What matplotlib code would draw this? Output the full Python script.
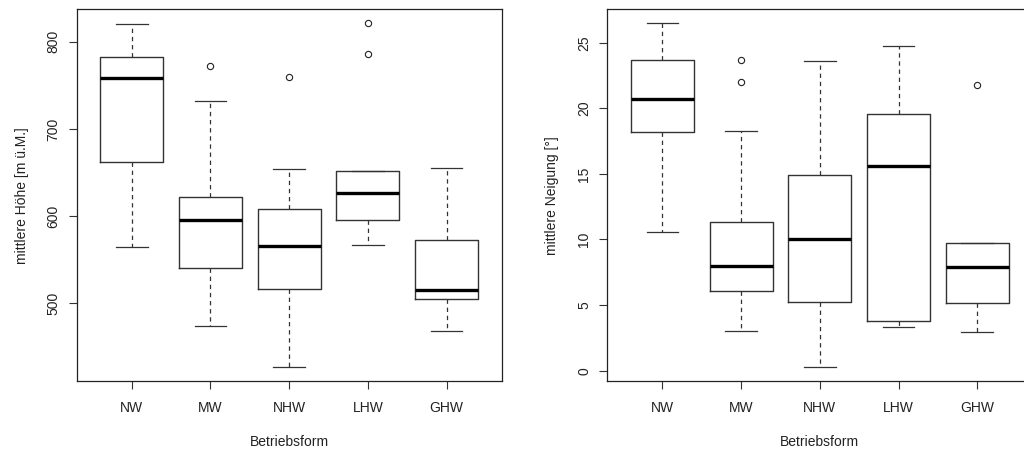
import matplotlib
matplotlib.use("Agg")
import matplotlib.pyplot as plt

plt.rcParams['font.family'] = ['Liberation Sans', 'DejaVu Sans']

kategorien = ['NW', 'MW', 'NHW', 'LHW', 'GHW']

# mittlere Hoehe [m u.M.]: whisker unten, Q1, Median, Q3, whisker oben
hoehe_unten = [564.9, 474.3, 426.8, 567.2, 468.0]
hoehe_q1 = [662.3, 540.7, 516.9, 595.2, 505.4]
hoehe_med = [758.2, 595.2, 566.0, 627.0, 515.8]
hoehe_q3 = [783.1, 621.6, 608.6, 651.9, 572.5]
hoehe_oben = [820.7, 731.7, 653.9, 651.9, 655.0]
hoehe_ausreisser = [[], [772.0], [759.3], [821.5, 786.2], []]

# mittlere Neigung [Grad]
neig_unten = [10.56, 3.06, 0.26, 3.34, 2.98]
neig_q1 = [18.19, 6.10, 5.26, 3.75, 5.18]
neig_med = [20.74, 7.96, 10.0, 15.64, 7.88]
neig_q3 = [23.67, 11.30, 14.9, 19.57, 9.72]
neig_oben = [26.5, 18.24, 23.6, 24.77, 9.72]
neig_ausreisser = [[], [23.67, 22.0], [], [], [21.76]]


def stats(unten, q1, med, q3, oben, ausr):
    out = []
    for i in range(len(kategorien)):
        out.append(dict(whislo=unten[i], q1=q1[i], med=med[i], q3=q3[i],
                        whishi=oben[i], fliers=ausr[i], label=kategorien[i]))
    return out


def boxplot(ax, st, ylabel, yticks):
    ax.bxp(st, positions=range(1, 6), widths=0.8, showfliers=True,
           boxprops=dict(color='#333333', linewidth=1.0),
           medianprops=dict(color='black', linewidth=2.4, solid_capstyle='butt'),
           whiskerprops=dict(color='#333333', linewidth=0.9, linestyle=(0, (3.5, 3))),
           capprops=dict(color='#333333', linewidth=0.9),
           capwidths=0.4,
           flierprops=dict(marker='o', markerfacecolor='none', markeredgecolor='#222222',
                           markersize=4.5, markeredgewidth=0.8))
    alle = [v for s in st for v in [s['whislo'], s['whishi']] + list(s['fliers'])]
    lo, hi = min(alle), max(alle)
    r = hi - lo
    ax.set_ylim(lo - 0.04 * r, hi + 0.04 * r)
    ax.set_xlim(0.3, 5.7)
    ax.set_yticks(yticks)
    ax.set_yticklabels([str(t) for t in yticks], rotation=90, va='center')
    ax.set_xticks(range(1, 6))
    ax.set_xticklabels(kategorien)
    ax.tick_params(axis='both', length=5.6, width=0.8, color='#333333',
                   labelsize=10, labelcolor='#222222')
    ax.tick_params(axis='y', pad=6)
    ax.tick_params(axis='x', pad=9)
    for sp in ax.spines.values():
        sp.set_color('#222222')
        sp.set_linewidth(0.9)
    ax.set_xlabel('Betriebsform', fontsize=10, color='#222222', labelpad=14)
    ax.set_ylabel(ylabel, fontsize=10, color='#222222', labelpad=13)


fig = plt.figure(figsize=(10.24, 4.55), dpi=100)
ax1 = fig.add_axes([76.7 / 1024, 74 / 455, 425 / 1024, 371.7 / 455])
ax2 = fig.add_axes([607.3 / 1024, 74 / 455, 425 / 1024, 371.7 / 455])

boxplot(ax1, stats(hoehe_unten, hoehe_q1, hoehe_med, hoehe_q3, hoehe_oben, hoehe_ausreisser),
        'mittlere Höhe [m ü.M.]', [500, 600, 700, 800])
boxplot(ax2, stats(neig_unten, neig_q1, neig_med, neig_q3, neig_oben, neig_ausreisser),
        'mittlere Neigung [°]', [0, 5, 10, 15, 20, 25])

fig.savefig('out.png', dpi=100)
